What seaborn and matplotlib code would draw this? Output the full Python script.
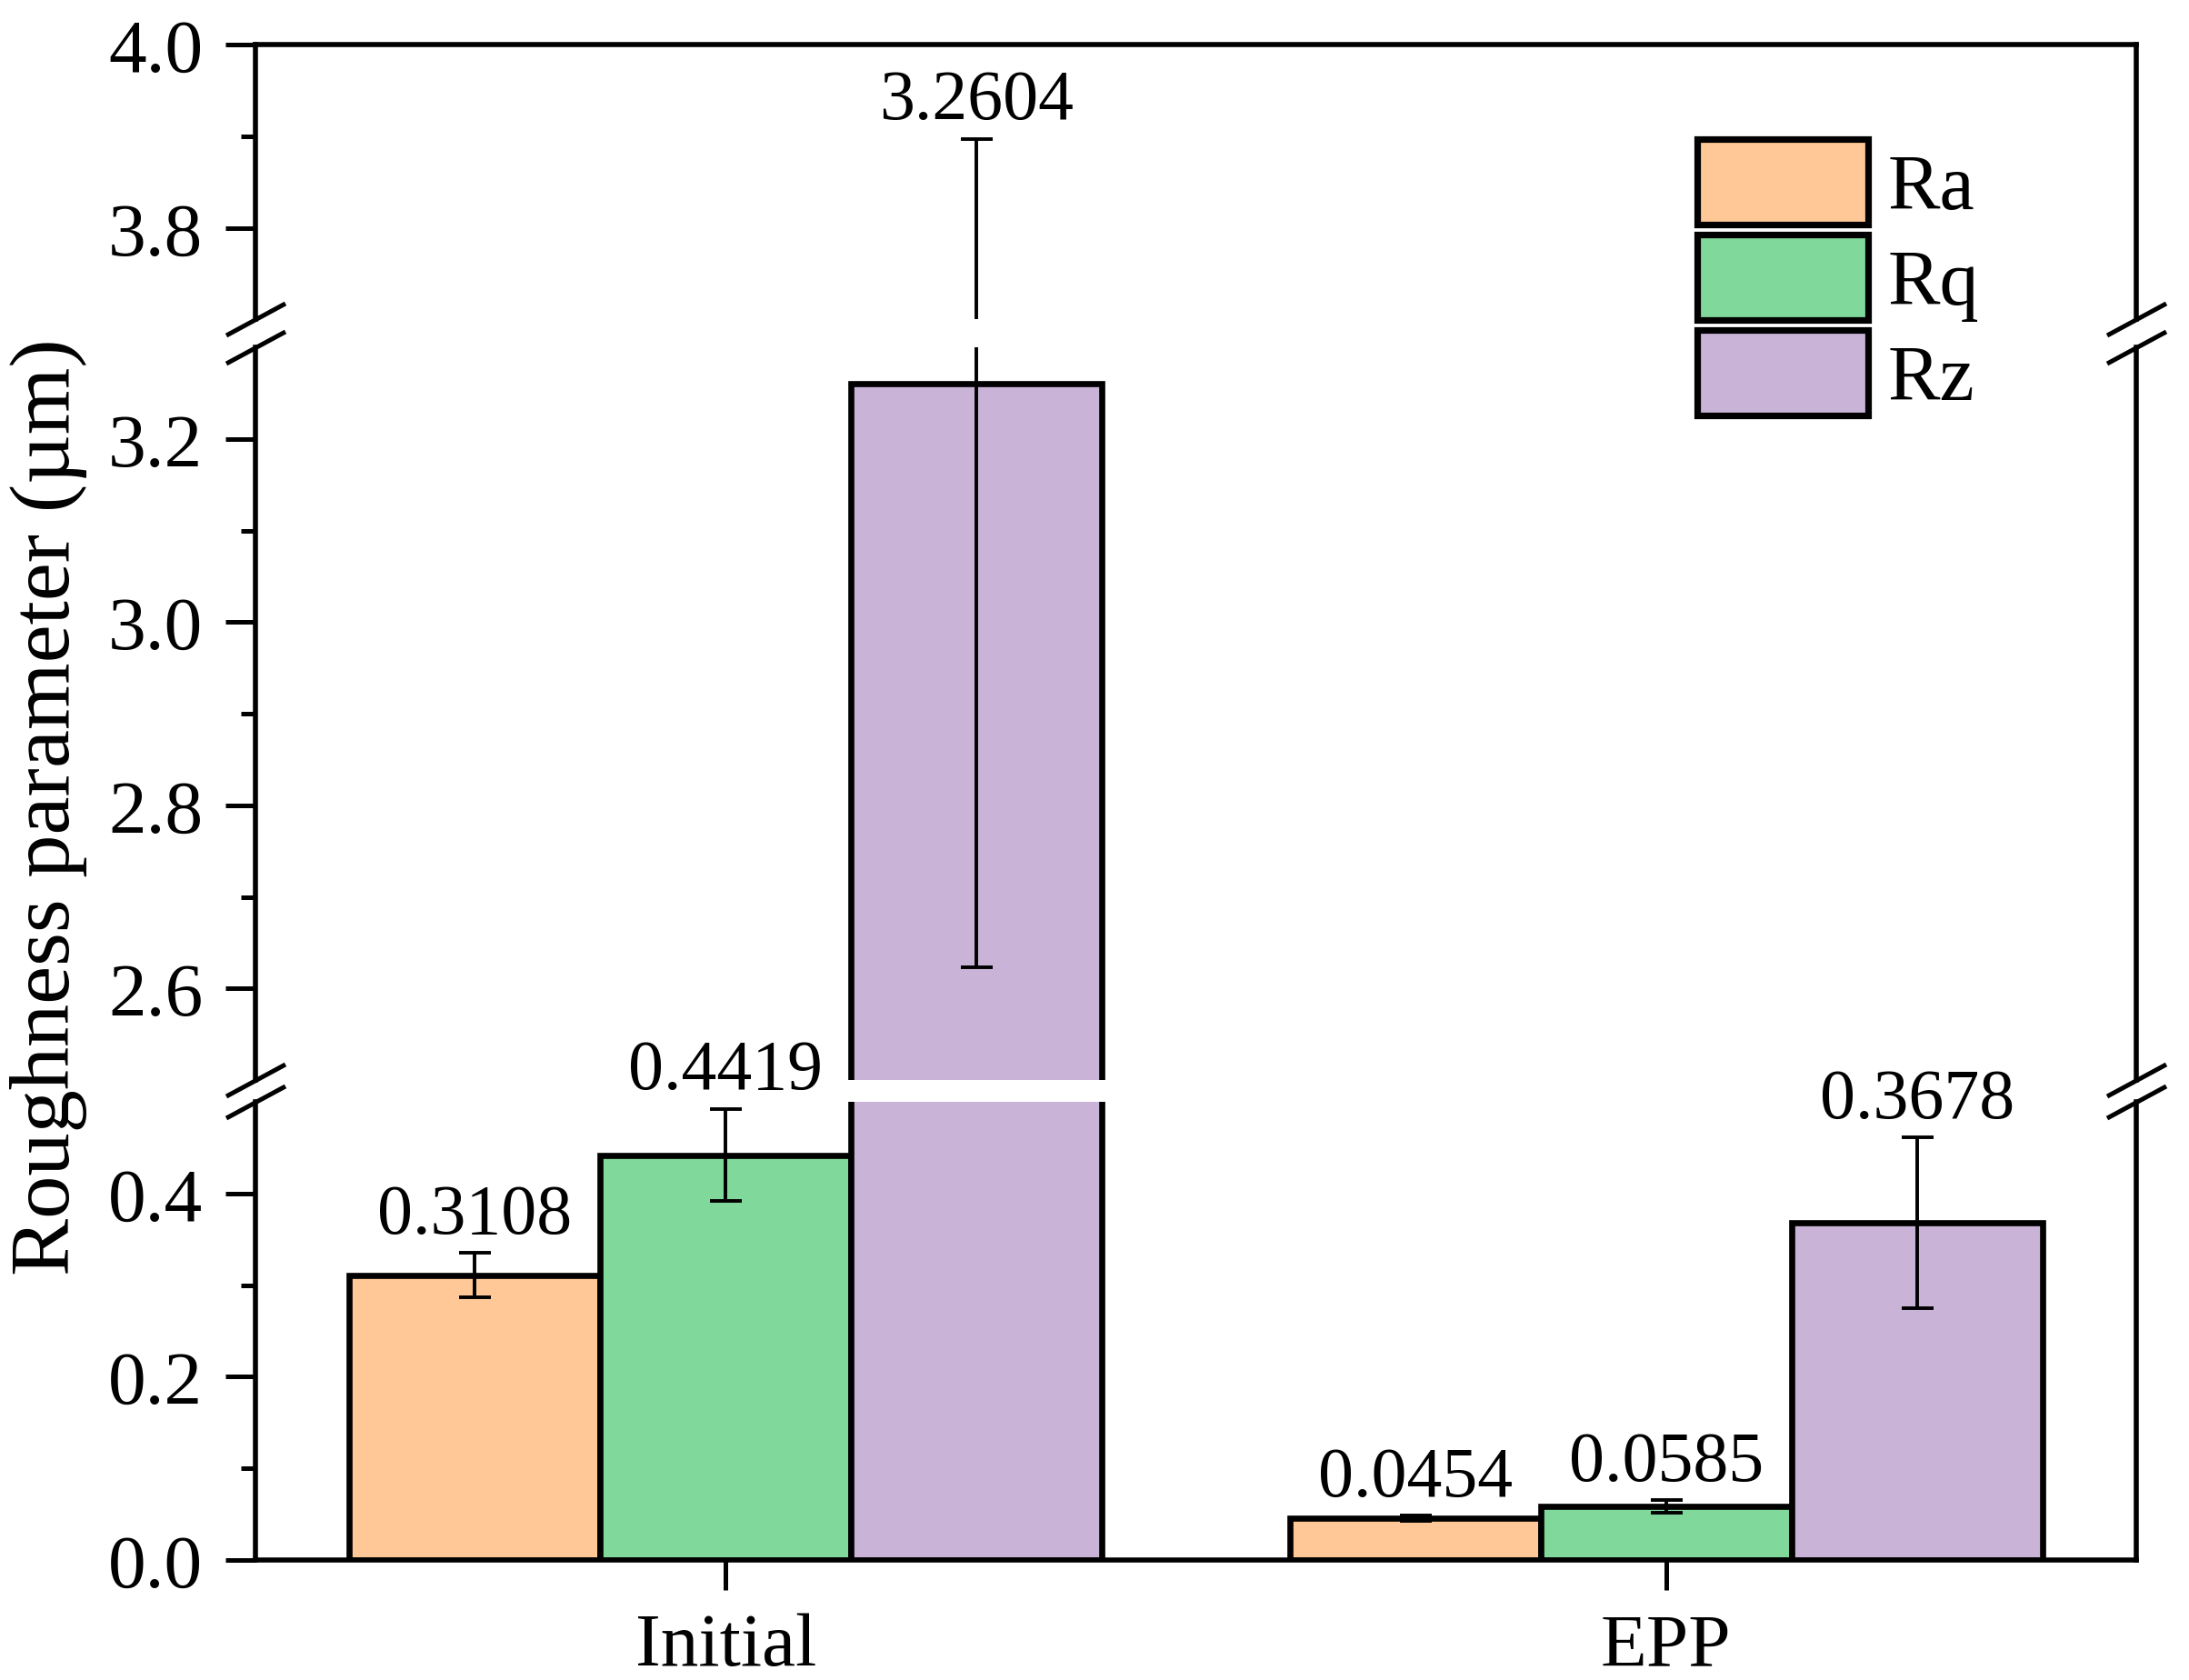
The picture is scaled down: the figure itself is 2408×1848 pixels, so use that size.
import matplotlib
matplotlib.use('Agg')
import matplotlib.pyplot as plt
from matplotlib.patches import Patch
from matplotlib.container import BarContainer
from matplotlib.ticker import FixedLocator, FormatStrFormatter
import seaborn as sns
import pandas as pd

# data
groups = ['Initial', 'EPP']
params = ['Ra', 'Rq', 'Rz']
initial_vals = [0.3108, 0.4419, 3.2604]
initial_err = [0.0245, 0.0505, 0.637]
epp_vals = [0.0454, 0.0585, 0.3678]
epp_err = [0.003, 0.007, 0.0935]
colors = ['#FFC896', '#80D89A', '#C9B4D7']

vals = [initial_vals, epp_vals]
errs = [initial_err, epp_err]

df = pd.DataFrame({
    'group': [g for g in groups for _ in params],
    'param': params * len(groups),
    'value': initial_vals + epp_vals,
})

sns.set_style('ticks')
plt.rcParams['font.family'] = ['Liberation Serif', 'DejaVu Serif']
plt.rcParams.update({
    'text.color': 'black', 'axes.labelcolor': 'black', 'axes.edgecolor': 'black',
    'xtick.color': 'black', 'ytick.color': 'black',
})

fig = plt.figure(figsize=(12.04, 9.245), dpi=200)

# broken y axis: top, middle, bottom segments (figure fractions)
left, width = 0.1167, 0.8592
segments = [
    ((3.7, 4.0), [0.8094, 0.1634], [3.8, 4.0], [3.9]),
    ((2.5, 3.3), [0.3570, 0.4357], [2.6, 2.8, 3.0, 3.2], [2.7, 2.9, 3.1]),
    ((0.0, 0.5), [0.0714, 0.2726], [0.0, 0.2, 0.4], [0.1, 0.3]),
]

axes = []
for (ylim, (bottom, height), major, minor) in segments:
    ax = fig.add_axes([left, bottom, width, height])
    ax.set_facecolor('none')
    sns.barplot(data=df, x='group', y='value', hue='param', order=groups,
                hue_order=params, palette=colors, saturation=1,
                edgecolor='black', linewidth=2.4, errorbar=None,
                legend=False, ax=ax)
    ax.set_ylim(*ylim)
    ax.set_xlim(-0.5, 1.5)
    ax.set_xlabel('')
    ax.set_ylabel('')
    ax.yaxis.set_major_locator(FixedLocator(major))
    ax.yaxis.set_minor_locator(FixedLocator(minor))
    ax.yaxis.set_major_formatter(FormatStrFormatter('%.1f'))
    ax.tick_params(axis='y', which='major', direction='out', length=11.8,
                   width=1.8, labelsize=30, pad=9)
    ax.tick_params(axis='y', which='minor', direction='out', length=5.8, width=1.8)
    for s in ax.spines.values():
        s.set_linewidth(2.0)
        s.set_visible(True)
    axes.append(ax)

ax_top, ax_mid, ax_bot = axes
ax_top.spines['bottom'].set_visible(False)
ax_mid.spines['top'].set_visible(False)
ax_mid.spines['bottom'].set_visible(False)
ax_bot.spines['top'].set_visible(False)
for ax in (ax_top, ax_mid):
    ax.tick_params(axis='x', bottom=False, labelbottom=False)
ax_bot.tick_params(axis='x', direction='out', length=11.8, width=1.8,
                   labelsize=30, pad=9)

# error bars and value labels
for ax in axes:
    lo, hi = ax.get_ylim()
    bar_conts = [c for c in ax.containers if isinstance(c, BarContainer)]
    for i, cont in enumerate(bar_conts):
        for j, bar in enumerate(cont):
            x = bar.get_x() + bar.get_width() / 2
            v, e = vals[j][i], errs[j][i]
            ax.errorbar(x, v, yerr=e, fmt='none', ecolor='black',
                        elinewidth=1.4, capsize=6.3, capthick=1.4, zorder=5)
            top = v + e
            if lo <= top <= hi:
                ax.annotate(f'{v:.4f}', xy=(x, top), xytext=(0, 8),
                            textcoords='offset points', ha='center',
                            va='baseline', fontsize=28, annotation_clip=False)

# break marks
d = 0.54
mk = dict(marker=[(-1, -d), (1, d)], markersize=23.4, linestyle='none',
          color='k', mec='k', mew=1.8, clip_on=False, zorder=10)
for upper, lower in [(ax_top, ax_mid), (ax_mid, ax_bot)]:
    upper.plot([0, 1], [0, 0], transform=upper.transAxes, **mk)
    lower.plot([0, 1], [1, 1], transform=lower.transAxes, **mk)

# legend
handles = [Patch(facecolor=c, edgecolor='black', linewidth=2.6) for c in colors]
fig.legend(handles, params, loc='upper left', bbox_to_anchor=(0.7755, 0.9167),
           frameon=False, fontsize=31, handlelength=2.18, handleheight=1.3,
           labelspacing=0.12, handletextpad=0.25, borderpad=0, borderaxespad=0)

fig.text(0.0224, 0.5197, 'Roughness parameter (µm)', rotation=90,
         ha='center', va='center', fontsize=34)

fig.savefig('out.png', dpi=200)
